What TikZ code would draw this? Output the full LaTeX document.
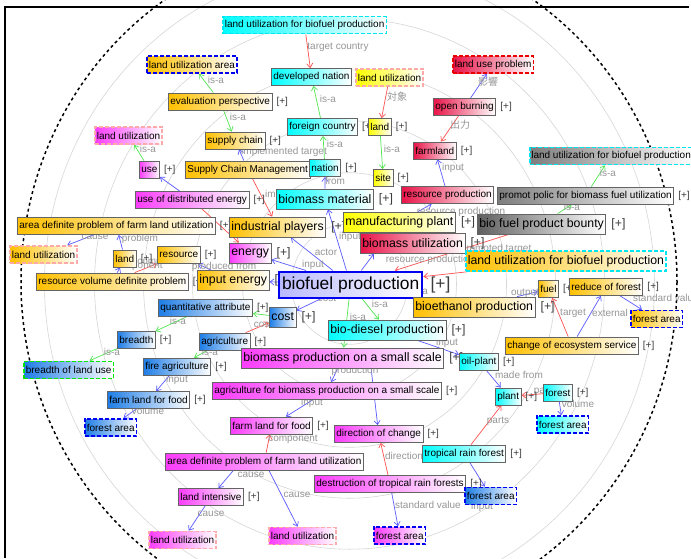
\documentclass[tikz,border=0pt]{standalone}
\usepackage{fontspec}
\setmainfont{Liberation Sans}
\newfontfamily\cjk{Noto Sans CJK JP}
\usetikzlibrary{arrows.meta}
\pgfdeclarelayer{back}
\pgfdeclarelayer{edges}
\pgfsetlayers{back,edges,main}
\definecolor{cOr}{RGB}{255,192,0}
\definecolor{cCy}{RGB}{0,255,255}
\definecolor{cMa}{RGB}{250,60,250}
\definecolor{cCr}{RGB}{232,20,72}
\definecolor{cYe}{RGB}{255,255,0}
\definecolor{cBl}{RGB}{30,125,230}
\definecolor{cGy}{RGB}{125,125,125}
\definecolor{cDg}{RGB}{95,95,95}
\definecolor{cLa}{RGB}{185,185,255}
\definecolor{bdGray}{RGB}{100,100,100}
\definecolor{bdBlue}{RGB}{0,0,240}
\definecolor{bdCyan}{RGB}{0,230,240}
\definecolor{bdPink}{RGB}{255,170,170}
\definecolor{bdRed}{RGB}{235,0,0}
\definecolor{bdGreen}{RGB}{0,230,0}
\definecolor{eBlue}{RGB}{90,90,255}
\definecolor{eRed}{RGB}{255,80,80}
\definecolor{eGreen}{RGB}{80,230,80}
\definecolor{lblC}{RGB}{150,150,150}
\definecolor{ringC}{RGB}{215,215,215}
\definecolor{plusC}{RGB}{60,60,60}
\tikzset{
  base/.style={rectangle, anchor=west, inner xsep=2pt, inner ysep=0pt, minimum height=17pt, text=black, font=\fontsize{10}{12}\selectfont, right color=white, draw=bdGray, line width=0.8pt},
  big/.style={minimum height=20pt, font=\fontsize{12.3}{14}\selectfont},
  hugebox/.style={minimum height=26pt, font=\fontsize{17.4}{20}\selectfont, draw=bdBlue, line width=2pt, inner xsep=3pt},
  fOr/.style={left color=cOr}, fCy/.style={left color=cCy}, fMa/.style={left color=cMa},
  fCr/.style={left color=cCr}, fYe/.style={left color=cYe}, fBl/.style={left color=cBl},
  fGy/.style={left color=cGy}, fDg/.style={left color=cDg}, fLa/.style={left color=cLa},
  dsh/.style={line width=1.6pt, dash pattern=on 4pt off 2pt},
  dB/.style={dsh, draw=bdBlue}, dC/.style={dsh, draw=bdCyan}, dP/.style={dsh, draw=bdPink},
  dR/.style={dsh, draw=bdRed}, dG/.style={dsh, draw=bdGreen},
  plusn/.style={inner sep=0pt, xshift=4pt, text=plusC, font=\fontsize{10}{12}\selectfont},
  plusb/.style={inner sep=0pt, xshift=5pt, text=plusC, font=\fontsize{12.3}{14}\selectfont},
  plush/.style={inner sep=0pt, xshift=7pt, text=plusC, font=\fontsize{17.4}{20}\selectfont},
  pl/.style={label={[plusn]east:{[+]}}},
  plB/.style={label={[plusb]east:{[+]}}},
  plH/.style={label={[plush]east:{[+]}}},
  edge/.style={line width=0.7pt, -{Straight Barb[length=4pt,width=6pt]}},
  eb/.style={edge, draw=eBlue}, er/.style={edge, draw=eRed}, eg/.style={edge, draw=eGreen},
  lbl/.style={inner sep=0pt, text=lblC, font=\fontsize{10}{12}\selectfont},
  lblj/.style={inner sep=0pt, text=lblC, font=\fontsize{10}{12}\selectfont\cjk},
  ring/.style={draw=ringC, line width=0.6pt},
}
\begin{document}
\begin{tikzpicture}[x=1pt,y=-1pt]
\useasboundingbox (0,0) rectangle (691,558);
\begin{pgfonlayer}{back}
\fill[white] (0,0) rectangle (691,558);
\foreach \r in {58,107,157,206,255,305} \draw[ring] (349.5,284) ellipse [x radius=\r, y radius={1.04*\r}];
\draw[line width=1.5pt, dash pattern=on 3pt off 3pt] (349,282) ellipse [x radius=328, y radius=341];
\draw[line width=2pt] (5,558) -- (5,7) -- (689,7);
\end{pgfonlayer}

% nodes
\node[base,fCy,dC] (luTop) at (222,25) {land utilization for biofuel production};
\node[base,fOr,dB] (luArea) at (146,64.5) {land utilization area};
\node[base,fCy,pl] (devNation) at (271,77) {developed nation};
\node[base,fYe,dP] (luYellow) at (355,77.5) {land utilization};
\node[base,fCr,dR] (luProblem) at (452,64.5) {land use problem};
\node[base,fOr,pl] (evalPersp) at (168,101.5) {evaluation perspective};
\node[base,fCr,pl] (openBurning) at (433,107) {open burning};
\node[base,fMa,dP] (luMag1) at (94,135.5) {land utilization};
\node[base,fCy,pl] (foreign) at (287,127) {foreign country};
\node[base,fYe,pl] (landY) at (368,127) {land};
\node[base,fOr,pl] (supplyChain) at (205,140.5) {supply chain};
\node[base,fCr,pl] (farmland) at (413,150.5) {farmland};
\node[base,fGy,dC,inner xsep=1.5pt] (luGray) at (529,156) {land utilization for biofuel production};
\node[base,fMa,pl] (use) at (139,169.5) {use};
\node[base,fOr] (scm) at (185,169.5) {Supply Chain Management};
\node[base,fCy,pl] (nation) at (309,168) {nation};
\node[base,fYe,pl] (site) at (373,178) {site};
\node[base,fCr,pl] (resProd) at (401,195) {resource production};
\node[base,fGy,pl] (promot) at (497,195.5) {promot polic for biomass fuel utilization};
\node[base,big,fCy,plB] (biomassMat) at (276,199) {biomass material};
\node[base,fMa,pl] (useDist) at (135,200) {use of distributed energy};
\node[base,fOr,pl] (areaDefO) at (17,226) {area definite problem of farm land utilization};
\node[base,big,fOr,plB] (indPlayers) at (229,227) {industrial players};
\node[base,big,fYe,plB] (manuf) at (343,222) {manufacturing plant};
\node[base,big,fDg,plB] (bounty) at (477,224) {bio fuel product bounty};
\node[base,big,fCr,plB] (biomassUtil) at (360,243.5) {biomass utilization};
\node[base,fOr,dP] (luOrange) at (9,254.5) {land utilization};
\node[base,fOr,pl] (landO) at (113,258.5) {land};
\node[base,fOr,pl] (resource) at (157,255) {resource};
\node[base,big,fMa,plB] (energy) at (229,253) {energy};
\node[base,big,fOr,dC] (luBigO) at (465,261) {land utilization for biofuel production};
\node[base,fOr,pl] (resVol) at (36,281.5) {resource volume definite problem};
\node[base,big,fOr,plB] (inputEnergy) at (197,280.5) {input energy};
\node[base,hugebox,fLa,plH] (biofuel) at (278,284.5) {biofuel production};
\node[base,big,fOr,plB] (bioethanol) at (413,307) {bioethanol production};
\node[base,fOr,pl] (fuel) at (538,289) {fuel};
\node[base,fOr,pl] (reduceForest) at (569,287) {reduce of forest};
\node[base,fOr,dB] (forestAreaO) at (630,319) {forest area};
\node[base,fBl,pl] (quantAttr) at (158,308) {quantitative attribute};
\node[base,big,fBl,plB] (cost) at (269,317) {cost};
\node[base,fBl,pl] (breadth) at (117,340) {breadth};
\node[base,fBl,pl] (agriculture) at (199,341.5) {agriculture};
\node[base,big,fCy,plB] (biodiesel) at (328,330) {bio-diesel production};
\node[base,fOr,pl] (changeEco) at (505,345.5) {change of ecosystem service};
\node[base,big,fMa,plB] (bpSmall) at (241,358) {biomass production on a small scale};
\node[base,fBl,pl] (fireAgri) at (143,366.5) {fire agriculture};
\node[base,fBl,dG] (breadthLU) at (23,370) {breadth of land use};
\node[base,fCy,pl] (oilPlant) at (459,361.5) {oil-plant};
\node[base,fMa,pl] (agriBP) at (212,391) {agriculture for biomass production on a small scale};
\node[base,fBl,pl] (farmFoodB) at (107,400) {farm land for food};
\node[base,fCy,pl] (plant) at (495,396.5) {plant};
\node[base,fCy,pl] (forest) at (543,392.5) {forest};
\node[base,fBl,dB] (forestAreaB) at (84,427.5) {forest area};
\node[base,fCy,dB] (forestAreaC) at (536,424.5) {forest area};
\node[base,fMa,pl] (farmFoodM) at (230,425.5) {farm land for food};
\node[base,fMa,pl] (dirChange) at (334,434) {direction of change};
\node[base,fCy,pl] (tropical) at (422,453.5) {tropical rain forest};
\node[base,fMa] (areaDefM) at (165,461.5) {area definite problem of farm land utilization};
\node[base,fMa,pl] (destruction) at (314,484) {destruction of tropical rain forests};
\node[base,fBl,dB] (forestAreaBC) at (464,496) {forest area};
\node[base,fMa,pl] (landIntensive) at (178,497) {land intensive};
\node[base,fMa,dP] (luMagL) at (148,540) {land utilization};
\node[base,fMa,dP] (luMagR) at (268,536) {land utilization};
\node[base,fMa,dB] (forestAreaM) at (373,535.5) {forest area};

\begin{pgfonlayer}{edges}
\draw[er] (luTop) -- (devNation);
\draw[eg] (evalPersp) -- (luArea);
\draw[eg] (evalPersp) -- (supplyChain);
\draw[eg] (foreign) -- (devNation);
\draw[eg] (nation) -- (foreign);
\draw[eb] (scm) -- (supplyChain);
\draw[eb] (biomassMat) -- (nation);
\draw[er] (luYellow) -- (landY);
\draw[eg] (landY) -- (site);
\draw[eb] (openBurning) -- (luProblem);
\draw[er] (openBurning) -- (farmland);
\draw[eb] (resProd) -- (farmland);
\draw[eg] (use) -- (luMag1);
\draw[eb] (useDist) -- (use);
\draw[eg] (bounty) -- (promot);
\draw[eg] (promot) -- (luGray);
\draw[er] (scm) -- (indPlayers);
\draw[er] (useDist) -- (energy);
\draw[eb] (biofuel) -- (indPlayers);
\draw[eb] (biofuel) -- (energy);
\draw[eb] (biofuel) -- (inputEnergy);
\draw[eb] (biofuel) -- (cost);
\draw[eb] (biofuel) -- (biomassMat);
\draw[eb] (biofuel) -- (biomassUtil.195);
\draw[eb] (manuf) -- (resProd);
\draw[er] (bounty) -- (biofuel);
\draw[er] (luBigO) -- (biofuel);
\draw[eg] (biofuel) -- (biodiesel);
\draw[eg] (biofuel) -- (bpSmall);
\draw[eg] (biofuel) -- (bioethanol);
\draw[eb] (bioethanol) -- (fuel);
\draw[er] (changeEco) -- (fuel);
\draw[eb] (changeEco) -- (reduceForest);
\draw[eb] (reduceForest) -- (forestAreaO);
\draw[eg] (cost) -- (quantAttr);
\draw[eg] (quantAttr) -- (breadth);
\draw[er] (agriculture) -- (cost);
\draw[eg] (breadth) -- (breadthLU);
\draw[eg] (agriculture) -- (fireAgri);
\draw[eb] (fireAgri) -- (farmFoodB);
\draw[eb] (farmFoodB) -- (forestAreaB);
\draw[eb] (areaDefO) -- (luOrange);
\draw[eb] (landO) -- (areaDefO);
\draw[eb] (resVol) -- (landO);
\draw[er] (resVol) -- (resource);
\draw[eb] (inputEnergy) -- (resource);
\draw[eb] (biodiesel) -- (oilPlant);
\draw[eb] (bpSmall) -- (agriBP);
\draw[eb] (agriBP) -- (farmFoodM);
\draw[er] (areaDefM) -- (farmFoodM);
\draw[eb] (bpSmall.-20) -- (dirChange);
\draw[er] (destruction) -- (dirChange);
\draw[eb] (oilPlant) -- (plant);
\draw[er] (tropical) -- (plant);
\draw[er] (forest) -- (plant);
\draw[eb] (forest) -- (forestAreaC);
\draw[eb] (tropical) -- (forestAreaBC);
\draw[eb] (destruction) -- (forestAreaM);
\draw[eb] (areaDefM.196) -- (landIntensive);
\draw[eb] (areaDefM) -- (luMagR);
\draw[eb] (landIntensive) -- (luMagL);

\node[lbl] (t1) at (338,47) {target country};
\node[lbl] (t2) at (216,80) {is-a};
\node[lbl] (t3) at (238,117) {is-a};
\node[lbl] (t4) at (328,99) {is-a};
\node[lbl] (t5) at (335,144) {is-a};
\node[lbl] (t6) at (284,152) {implemented target};
\node[lbl] (t7) at (335,181) {from};
\node[lblj] (t8) at (397,97) {対象};
\node[lbl] (t9) at (392,149) {is-a};
\node[lblj] (t10) at (488,82) {影響};
\node[lblj] (t11) at (460,125) {出力};
\node[lbl] (t12) at (453,168) {input};
\node[lbl] (t13) at (148,149) {is-a};
\node[lbl] (t14) at (572,207) {is-a};
\node[lbl] (t15) at (608,173) {is-a};
\node[lbl] (t16) at (326,252) {actor};
\node[lbl] (t17) at (313,265) {input};
\node[lbl] (t18) at (327,298) {cost};
\node[lbl] (t19) at (263,324) {cost};
\node[lbl] (t20) at (178,321) {is-a};
\node[lbl] (t21) at (112,352) {is-a};
\node[lbl] (t22) at (210,352) {is-a};
\node[lbl] (t23) at (177,380) {input};
\node[lbl] (t24) at (148,411) {volume};
\node[lbl] (t25) at (95,237) {cause};
\node[lbl] (t26) at (140,239) {problem};
\node[lbl] (t27) at (138,266) {component};
\node[lbl] (t28) at (162,262) {component};
\node[lbl] (t29) at (224,267) {produced from};
\node[lbl,anchor=west] (t30) at (265,195) {implemented target};
\node[lbl] (t31) at (461,212) {resource production};
\node[lbl] (t32) at (430,260) {resource production};
\node[lbl] (t33) at (496,249) {promoted target};
\node[lbl] (t34) at (350,237) {input};
\node[lbl] (t35) at (525,293) {output};
\node[lbl] (t36) at (573,313) {target};
\node[lbl,anchor=west] (t37) at (592,313) {external cause};
\node[lbl,anchor=west] (t38) at (633,298) {standard value};
\node[lbl] (t39) at (380,304) {is-a};
\node[lbl] (t40) at (358,317) {is-a};
\node[lbl] (t40b) at (420,291) {is-a};
\node[lbl] (t41) at (447,343) {input};
\node[lbl] (t42) at (355,371) {production};
\node[lbl] (t43) at (312,403) {input};
\node[lbl] (t44) at (293,439) {component};
\node[lbl] (t45) at (404,456) {direction};
\node[lbl] (t46) at (519,375) {made from};
\node[lbl] (t47) at (498,421) {parts};
\node[lbl] (t48) at (545,391) {parts};
\node[lbl] (t49) at (578,404) {volume};
\node[lbl] (t50) at (428,505) {standard value};
\node[lbl] (t51) at (482,507) {input};
\node[lbl] (t52) at (251,475) {cause};
\node[lbl] (t53) at (297,495) {cause};
\node[lbl] (t54) at (211,514) {cause};
\end{pgfonlayer}
\end{tikzpicture}
\end{document}
